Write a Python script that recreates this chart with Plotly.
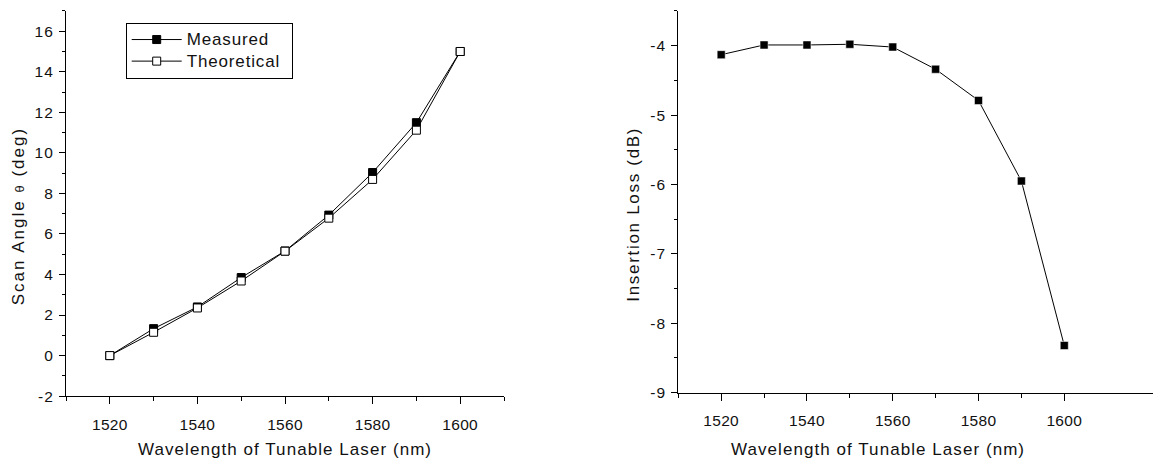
import plotly.graph_objects as go

wavelength = [1520, 1530, 1540, 1550, 1560, 1570, 1580, 1590, 1600]
measured_angle = [0.0, 1.33, 2.4, 3.85, 5.16, 6.93, 9.03, 11.49, 15.0]
theoretical_angle = [0.0, 1.15, 2.35, 3.68, 5.15, 6.78, 8.69, 11.12, 15.0]
insertion_loss = [-4.13, -3.99, -3.99, -3.98, -4.02, -4.34, -4.79, -5.95, -8.32]

wl_ticks = [1520, 1540, 1560, 1580, 1600]
wl_tick_text = ["1520", "1540", "1560", "1580", "1600"]
wl_minor_left = [1510, 1530, 1550, 1570, 1590, 1610]
wl_minor_right = [1510, 1530, 1550, 1570, 1590]
angle_ticks = [-2, 0, 2, 4, 6, 8, 10, 12, 14, 16]
angle_tick_text = ["-2", "0", "2", "4", "6", "8", "10", "12", "14", "16"]
loss_ticks = [-9, -8, -7, -6, -5, -4]
loss_tick_text = ["-9", "-8", "-7", "-6", "-5", "-4"]

x_title = "Wavelength of Tunable Laser (nm)"
y1_title = "Scan Angle <span style='font-size:13px'>θ</span> (deg)"
y2_title = "Insertion Loss (dB)"

FONT = "Liberation Sans, Arial, sans-serif"
W, H = 1161, 461
OFF = 8  # default page body margin


def px_x(p):
    return (p - OFF) / W


def px_y(p):
    return (H - (p - OFF)) / H


def spaced(t, s):
    return "<span style='letter-spacing:%gpx'>%s</span>" % (s, t)


def legend_name(t):
    return spaced("<span style='font-size:17px'>%s\u00a0</span>" % t, 0.85)


fig = go.Figure()
fig.add_trace(go.Scatter(
    x=wavelength, y=measured_angle, mode="lines+markers",
    name=legend_name("Measured"),
    line=dict(color="black", width=1),
    marker=dict(symbol="square", size=8, color="black", line=dict(color="black", width=1)),
    xaxis="x", yaxis="y"))
fig.add_trace(go.Scatter(
    x=wavelength, y=theoretical_angle, mode="lines+markers",
    name=legend_name("Theoretical"),
    line=dict(color="black", width=1),
    marker=dict(symbol="square", size=8, color="white", line=dict(color="black", width=1)),
    xaxis="x", yaxis="y"))
fig.add_trace(go.Scatter(
    x=wavelength, y=insertion_loss, name="Insertion Loss", mode="lines+markers",
    showlegend=False,
    line=dict(color="black", width=1),
    marker=dict(symbol="square", size=8, color="black", line=dict(color="white", width=0.5)),
    xaxis="x2", yaxis="y2"))


def ax(**kw):
    base = dict(showline=True, linecolor="black", linewidth=1.2, mirror=False,
                ticks="outside", tickwidth=1.2, tickcolor="black",
                showgrid=False, zeroline=False, tickmode="array",
                tickfont=dict(family=FONT, size=15.5, color="#111"))
    base.update(kw)
    return base


def xminor(vals):
    return dict(tickmode="array", tickvals=vals, ticks="outside", ticklen=4,
                tickcolor="black", tickwidth=1.2)


xtt = [spaced(t, 0.3) for t in wl_tick_text]

fig.update_layout(
    width=W, height=H,
    margin=dict(l=0, r=0, t=0, b=0),
    paper_bgcolor="white", plot_bgcolor="white",
    font=dict(family=FONT, color="#111"),
    xaxis=ax(domain=[px_x(66), px_x(504)], range=[1510, 1610],
             tickvals=wl_ticks, ticktext=xtt, ticklen=7, ticklabelstandoff=7,
             minor=xminor(wl_minor_left), anchor="y"),
    yaxis=ax(domain=[px_y(403), px_y(11)], range=[-2, 17],
             tickvals=angle_ticks, ticktext=[spaced(t, 1) for t in angle_tick_text],
             ticklen=6, ticklabelstandoff=2,
             minor=dict(dtick=1, tick0=0, ticks="outside", ticklen=3, tickcolor="black", tickwidth=1.2),
             anchor="x"),
    xaxis2=ax(domain=[px_x(678.3), 1.0], range=[1510, 1600 + (W + OFF - 1064.3) / 4.2875],
              tickvals=wl_ticks, ticktext=xtt, ticklen=7, ticklabelstandoff=7,
              minor=xminor(wl_minor_right), anchor="y2"),
    yaxis2=ax(domain=[px_y(399.5), px_y(11)], range=[-9, -3.5],
              tickvals=loss_ticks, ticktext=[spaced(t, 1) for t in loss_tick_text],
              ticklen=6, ticklabelstandoff=2,
              minor=dict(dtick=0.5, tick0=-9, ticks="outside", ticklen=3, tickcolor="black", tickwidth=1.2),
              anchor="x2"),
    legend=dict(x=px_x(125.7), y=px_y(23), xanchor="left", yanchor="top",
                bgcolor="white", bordercolor="black", borderwidth=1,
                font=dict(family=FONT, size=14.3, color="#111"),
                tracegroupgap=0, itemwidth=50),
    annotations=[
        dict(text=spaced(x_title, 1.06), xref="paper", yref="paper",
             x=px_x(285), y=px_y(457), xanchor="center", yanchor="middle",
             showarrow=False, font=dict(family=FONT, size=17, color="#111")),
        dict(text=spaced(x_title, 1.06), xref="paper", yref="paper",
             x=px_x(878), y=px_y(457), xanchor="center", yanchor="middle",
             showarrow=False, font=dict(family=FONT, size=17, color="#111")),
        dict(text=spaced(y1_title, 2), xref="paper", yref="paper", textangle=-90,
             x=px_x(18.5), y=px_y(220.5), xanchor="center", yanchor="middle",
             showarrow=False, font=dict(family=FONT, size=17, color="#111")),
        dict(text=spaced(y2_title, 1.7), xref="paper", yref="paper", textangle=-90,
             x=px_x(634), y=px_y(218.4), xanchor="center", yanchor="middle",
             showarrow=False, font=dict(family=FONT, size=17, color="#111")),
    ],
)

fig.write_html("out.html")
